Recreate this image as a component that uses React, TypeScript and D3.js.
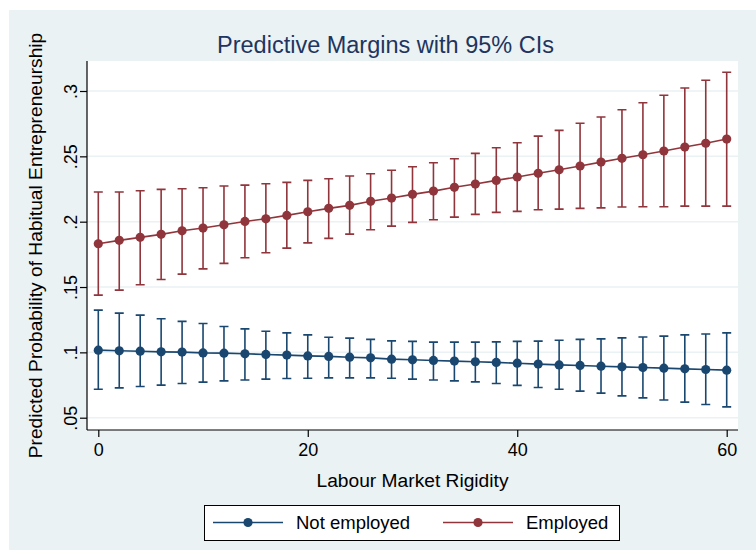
import React, { useEffect, useRef } from 'react';
import * as d3 from 'd3';

const xs = [0, 2, 4, 6, 8, 10, 12, 14, 16, 18, 20, 22, 24, 26, 28, 30, 32, 34, 36, 38, 40, 42, 44, 46, 48, 50, 52, 54, 56, 58, 60];

const notEmpMean = [0.1017, 0.1012, 0.1009, 0.1004, 0.1002, 0.0996, 0.0994, 0.0989, 0.0984, 0.0979, 0.0973, 0.0969, 0.0963, 0.0958,
  0.0948, 0.0943, 0.0938, 0.0933, 0.0928, 0.0923, 0.0917, 0.0910, 0.0904, 0.0900, 0.0894, 0.0889, 0.0884, 0.0879, 0.0874, 0.0869, 0.0864];
const notEmpHi = [0.1323, 0.1300, 0.1285, 0.1257, 0.1237, 0.1221, 0.1198, 0.1180, 0.1162, 0.1149, 0.1134, 0.1116, 0.1109, 0.1099,
  0.1088, 0.1084, 0.1078, 0.1078, 0.1078, 0.1080, 0.1084, 0.1086, 0.1093, 0.1099, 0.1103, 0.1111, 0.1118, 0.1124, 0.1134, 0.1141, 0.1149];
const notEmpLo = [0.0718, 0.0728, 0.0739, 0.0749, 0.0762, 0.0772, 0.0782, 0.0789, 0.0795, 0.0800, 0.0802, 0.0805, 0.0805, 0.0805,
  0.0802, 0.0795, 0.0789, 0.0782, 0.0774, 0.0762, 0.0747, 0.0731, 0.0718, 0.0703, 0.0688, 0.0667, 0.0652, 0.0636, 0.0619, 0.0601, 0.0583];

const empMean = [0.1831, 0.1857, 0.1880, 0.1903, 0.1930, 0.1951, 0.1976, 0.2002, 0.2022, 0.2048, 0.2076, 0.2102, 0.2125, 0.2156,
  0.2181, 0.2209, 0.2234, 0.2263, 0.2288, 0.2316, 0.2342, 0.2370, 0.2397, 0.2426, 0.2456, 0.2485, 0.2512, 0.2541, 0.2571, 0.2600, 0.2632];
const empHi = [0.2227, 0.2227, 0.2237, 0.2247, 0.2252, 0.2260, 0.2273, 0.2280, 0.2290, 0.2301, 0.2316, 0.2328, 0.2349, 0.2367,
  0.2393, 0.2420, 0.2451, 0.2482, 0.2523, 0.2566, 0.2604, 0.2655, 0.2699, 0.2753, 0.2801, 0.2857, 0.2910, 0.2967, 0.3023, 0.3082, 0.3143];
const empLo = [0.1438, 0.1476, 0.1517, 0.1558, 0.1599, 0.1639, 0.1681, 0.1724, 0.1762, 0.1798, 0.1838, 0.1872, 0.1905, 0.1938,
  0.1966, 0.1995, 0.2015, 0.2035, 0.2056, 0.2071, 0.2079, 0.2091, 0.2096, 0.2102, 0.2106, 0.2112, 0.2114, 0.2114, 0.2119, 0.2119, 0.2119];

const yTicks = [0.05, 0.1, 0.15, 0.2, 0.25, 0.3];
const yTickLabels = ['.05', '.1', '.15', '.2', '.25', '.3'];
const xTicks = [0, 20, 40, 60];
const seriesNames = ['Not employed', 'Employed'];

export default ({ width = 756, height = 550 }) => {
  const svgRef = useRef<SVGSVGElement>(null);

  function loadGraph(elm: SVGSVGElement) {
    const font = '"Liberation Sans", Arial, sans-serif';
    const bg = '#eaf2f3';
    const navy = '#1a476f';
    const maroon = '#90353b';
    const left = 87, right = 738, top = 61, bottom = 430;

    const svg = d3.select(elm)
      .attr('width', width)
      .attr('height', height)
      .style('position', 'absolute')
      .style('left', '0px')
      .style('top', '0px')
      .style('font-family', font);

    svg.selectAll('*').remove();

    svg.append('rect').attr('width', width).attr('height', height).attr('fill', 'white');
    svg.append('rect').attr('x', 9).attr('y', 10).attr('width', width - 9).attr('height', height - 10).attr('fill', bg);
    svg.append('rect').attr('x', left).attr('y', top).attr('width', right - left).attr('height', bottom - top).attr('fill', 'white');

    const x = d3.scaleLinear().domain([0, 60]).range([98.3, 726.7]);
    const y = d3.scaleLinear().domain([0.05, 0.3]).range([417.7, 91]);

    // gridlines
    svg.append('g')
      .selectAll('line')
      .data(yTicks)
      .enter()
      .append('line')
      .attr('x1', left)
      .attr('x2', right)
      .attr('y1', d => y(d))
      .attr('y2', d => y(d))
      .attr('stroke', bg)
      .attr('stroke-width', 1.5);

    // y axis
    const yAxis = svg.append('g').attr('transform', 'translate(' + left + ',0)')
      .call(d3.axisLeft(y).tickValues(yTicks).tickSize(7).tickFormat((d, i) => yTickLabels[i]));
    yAxis.select('.domain').attr('d', 'M0,' + top + 'V' + bottom).attr('stroke', '#000').attr('stroke-width', 1.2);
    yAxis.selectAll('.tick line').attr('stroke', '#000').attr('stroke-width', 1.2);
    yAxis.selectAll('.tick text')
      .attr('x', null)
      .attr('dy', null)
      .attr('transform', 'translate(-10,0) rotate(-90)')
      .attr('text-anchor', 'middle')
      .style('font-size', '18px')
      .style('font-family', font)
      .attr('fill', '#000');

    // x axis
    const xAxis = svg.append('g').attr('transform', 'translate(0,' + bottom + ')')
      .call(d3.axisBottom(x).tickValues(xTicks).tickSize(7).tickFormat(d3.format('d')));
    xAxis.select('.domain').attr('d', 'M' + left + ',0H' + right).attr('stroke', '#000').attr('stroke-width', 1.2);
    xAxis.selectAll('.tick line').attr('stroke', '#000').attr('stroke-width', 1.2);
    xAxis.selectAll('.tick text')
      .attr('y', 26)
      .attr('dy', null)
      .style('font-size', '18px')
      .style('font-family', font)
      .attr('fill', '#000');

    const series = [
      { mean: notEmpMean, lo: notEmpLo, hi: notEmpHi, color: navy },
      { mean: empMean, lo: empLo, hi: empHi, color: maroon },
    ];

    series.forEach(s => {
      const g = svg.append('g');
      g.selectAll('.bar')
        .data(xs)
        .enter()
        .append('path')
        .attr('d', (d, i) => {
          const px = x(d);
          return 'M' + px + ',' + y(s.lo[i]) + 'V' + y(s.hi[i]) +
            'M' + (px - 4.5) + ',' + y(s.lo[i]) + 'H' + (px + 4.5) +
            'M' + (px - 4.5) + ',' + y(s.hi[i]) + 'H' + (px + 4.5);
        })
        .attr('fill', 'none')
        .attr('stroke', s.color)
        .attr('stroke-width', 1.6);

      const line = d3.line<number>().x(d => x(d)).y((d, i) => y(s.mean[i]));
      g.append('path')
        .datum(xs)
        .attr('d', line)
        .attr('fill', 'none')
        .attr('stroke', s.color)
        .attr('stroke-width', 1.6);

      g.selectAll('circle')
        .data(xs)
        .enter()
        .append('circle')
        .attr('cx', d => x(d))
        .attr('cy', (d, i) => y(s.mean[i]))
        .attr('r', 4.6)
        .attr('fill', s.color);
    });

    // titles
    svg.append('text')
      .text('Predictive Margins with 95% CIs')
      .attr('x', 385.5)
      .attr('y', 53)
      .attr('text-anchor', 'middle')
      .attr('fill', '#1e3560')
      .style('font-size', '23.5px');

    svg.append('text')
      .text('Predicted Probability of Habitual Entrepreneurship')
      .attr('transform', 'translate(42,' + (top + bottom) / 2 + ') rotate(-90)')
      .attr('text-anchor', 'middle')
      .attr('fill', '#000')
      .style('font-size', '19.2px');

    svg.append('text')
      .text('Labour Market Rigidity')
      .attr('x', (left + right) / 2)
      .attr('y', 487)
      .attr('text-anchor', 'middle')
      .attr('fill', '#000')
      .style('font-size', '19.2px');

    // legend
    const legend = svg.append('g');
    legend.append('rect')
      .attr('x', 204.5).attr('y', 505.5).attr('width', 415).attr('height', 35)
      .attr('fill', 'white').attr('stroke', '#000').attr('stroke-width', 1);
    const legendX = [213, 443];
    seriesNames.forEach((name, i) => {
      const lx = legendX[i];
      const c = series[i].color;
      legend.append('line').attr('x1', lx).attr('x2', lx + 70).attr('y1', 522.5).attr('y2', 522.5)
        .attr('stroke', c).attr('stroke-width', 1.6);
      legend.append('circle').attr('cx', lx + 35).attr('cy', 522.5).attr('r', 4.6).attr('fill', c);
      legend.append('text').text(name).attr('x', lx + 83).attr('y', 529)
        .attr('fill', '#000').style('font-size', '18.5px');
    });
  }

  useEffect(() => {
    if (svgRef.current) {
      loadGraph(svgRef.current);
    }
  }, [svgRef.current]);

  return <svg ref={svgRef}></svg>;
}
